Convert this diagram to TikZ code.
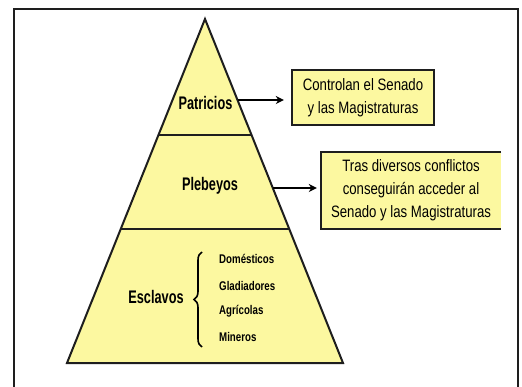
\documentclass[tikz,border=0pt]{standalone}
\usepackage{fontspec}
\setmainfont{Liberation Sans}[FakeStretch=0.80]
\newfontfamily\lblfont{Liberation Sans}[FakeStretch=0.70]
\newfontfamily\itemfont{Liberation Sans}[FakeStretch=0.77]
\usetikzlibrary{arrows.meta,calc,decorations.pathreplacing}
\definecolor{pyryellow}{RGB}{252,248,160}
\definecolor{edgegray}{RGB}{30,30,30}
\tikzset{
  level/.style={font=\lblfont\fontsize{18.2}{20}\selectfont\bfseries, inner sep=0pt},
  item/.style={font=\itemfont\fontsize{12.6}{15}\selectfont\bfseries, inner sep=0pt, anchor=west},
  infobox/.style={fill=pyryellow, align=center, inner sep=0pt, font=\fontsize{16.5}{23}\selectfont},
  conn/.style={line width=2pt, -{Stealth[length=8pt,width=8pt]}, shorten >=8pt},
}
\begin{document}
\begin{tikzpicture}[x=1pt,y=-1pt]
\useasboundingbox (0,0) rectangle (522,387);
\fill[white] (0,0) rectangle (522,387);
% frame
\draw[line width=2.5pt, edgegray] (14,390) -- (14,9) -- (518,9) -- (518,390);
% pyramid
\coordinate (apex) at (205,19);
\coordinate (bl) at (67,363);
\coordinate (br) at (343,363);
\filldraw[fill=pyryellow, draw=edgegray, line width=2pt, line join=miter] (apex) -- (br) -- (bl) -- cycle;
\draw[line width=2pt, edgegray] ($(apex)!0.3372!(bl)$) -- ($(apex)!0.3372!(br)$);
\draw[line width=2pt, edgegray] ($(apex)!0.6105!(bl)$) -- ($(apex)!0.6105!(br)$);
\coordinate (a1) at ($(apex)!0.2355!(br)$);
\coordinate (a2) at ($(apex)!0.4913!(br)$);
% level labels
\node[level] (pat) at (205.5,103) {Patricios};
\node[level] (ple) at (210,186) {Plebeyos};
\node[level] (esc) at (156,297) {Esclavos};
% items
\node[item] (dom) at (219,259) {Domésticos};
\node[item] (gla) at (219,286) {Gladiadores};
\node[item] (agr) at (219,311) {Agrícolas};
\node[item] (min) at (219,337) {Mineros};
\coordinate (brtop) at (202,252);
\coordinate (brbot) at (202,347);
\draw[line width=1.6pt, decorate, decoration={brace, amplitude=8pt}] (brbot) -- (brtop);
% boxes
\node[infobox, minimum width=142pt, minimum height=55pt] (b1) at (363,97.5) {Controlan el Senado\\y las Magistraturas};
\draw[line width=1.5pt, edgegray] (b1.north west) rectangle (b1.south east);
\node[infobox, minimum width=180pt, minimum height=77pt] (b2) at (411,190.5) {Tras diversos conflictos\\conseguirán acceder al\\Senado y las Magistraturas};
\draw[line width=1.5pt, edgegray] (b2.north east) -- (b2.north west) -- (b2.south west) -- (b2.south east);
% arrows
\draw[conn] (a1) -- (a1 -| b1.west);
\draw[conn, shorten >=4pt] (a2) -- (a2 -| b2.west);
\end{tikzpicture}
\end{document}
